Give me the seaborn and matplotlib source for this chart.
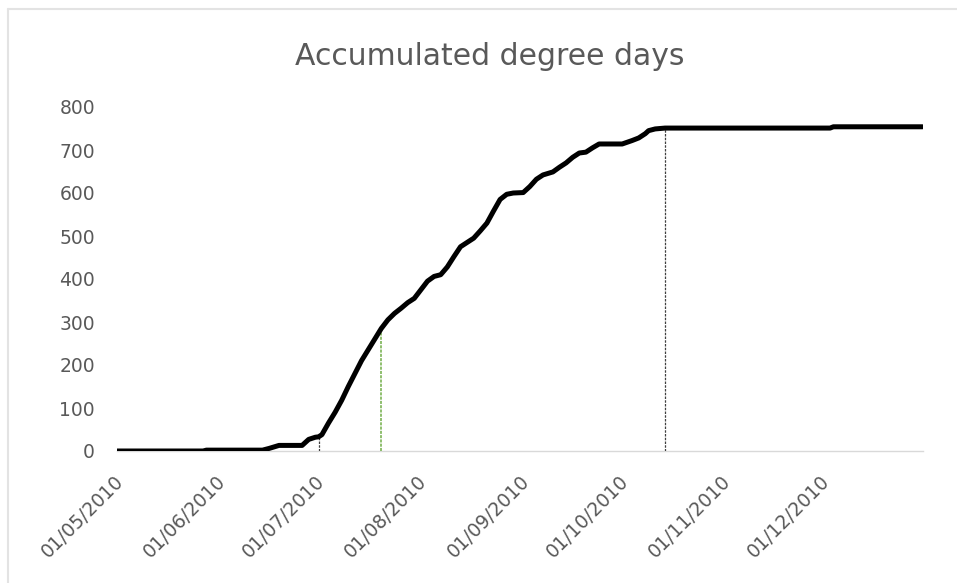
import matplotlib
matplotlib.use("Agg")
import matplotlib.pyplot as plt
import matplotlib.dates as mdates
from matplotlib.lines import Line2D
import matplotlib.transforms as mtransforms
import pandas as pd
import seaborn as sns

# ---- data ----
dates = [
    "2010-05-01", "2010-05-27", "2010-05-28", "2010-06-14", "2010-06-16", "2010-06-19",
    "2010-06-26", "2010-06-28", "2010-06-30", "2010-07-01", "2010-07-02", "2010-07-04",
    "2010-07-06", "2010-07-08", "2010-07-10", "2010-07-12", "2010-07-14", "2010-07-16",
    "2010-07-18", "2010-07-20", "2010-07-22", "2010-07-24", "2010-07-26", "2010-07-28",
    "2010-07-30", "2010-08-01", "2010-08-03", "2010-08-05", "2010-08-07", "2010-08-09",
    "2010-08-11", "2010-08-13", "2010-08-15", "2010-08-17", "2010-08-19", "2010-08-21",
    "2010-08-23", "2010-08-25", "2010-08-27", "2010-08-29", "2010-09-01", "2010-09-03",
    "2010-09-05", "2010-09-07", "2010-09-10", "2010-09-12", "2010-09-14", "2010-09-16",
    "2010-09-18", "2010-09-20", "2010-09-22", "2010-09-24", "2010-10-01", "2010-10-04",
    "2010-10-06", "2010-10-08", "2010-10-09", "2010-10-11", "2010-10-14", "2010-12-03",
    "2010-12-04", "2010-12-31",
]
degree_days = [
    0, 0, 2, 2, 6, 13,
    13, 27, 32, 33, 38, 65,
    90, 118, 150, 180, 210, 235,
    260, 285, 305, 320, 332, 345,
    355, 375, 395, 406, 410, 428,
    452, 475, 485, 495, 512, 530,
    558, 585, 597, 600, 601, 615,
    632, 642, 649, 660, 670, 683,
    693, 695, 705, 714, 714, 722,
    728, 738, 745, 749, 751, 751,
    754, 754,
]

marker_dates = ["2010-07-01", "2010-07-20", "2010-10-14"]
marker_values = [33, 283, 751]
marker_colors = ["#404040", "#70ad47", "#404040"]

tick_dates = ["2010-05-01", "2010-06-01", "2010-07-01", "2010-08-01",
              "2010-09-01", "2010-10-01", "2010-11-01", "2010-12-01"]
y_ticks = [0, 100, 200, 300, 400, 500, 600, 700, 800]
title = "Accumulated degree days"

# ---- plot ----
sns.set_style("white")
plt.rcParams["font.family"] = ["DejaVu Sans"]
text_color = "#595959"
axis_color = "#d9d9d9"

df = pd.DataFrame({"date": pd.to_datetime(dates), "value": degree_days})

fig = plt.figure(figsize=(9.57, 5.83), dpi=100)
W, H = 957, 583
left_px, right_px, top_px, bottom_px = 117.3, 922.5, 107, 451
ax = fig.add_axes([left_px / W, 1 - bottom_px / H,
                   (right_px - left_px) / W, (bottom_px - top_px) / H])

sns.lineplot(data=df, x="date", y="value", ax=ax, color="black",
             linewidth=3.6, solid_capstyle="round", solid_joinstyle="round", zorder=3)

md = pd.to_datetime(marker_dates)
for d, v, c in zip(md, marker_values, marker_colors):
    if c == "#70ad47":
        ax.vlines(d, 0, v, colors=c, linestyles=[(0, (2.0, 0.8))], linewidth=1.1, zorder=2)
    else:
        ax.vlines(d, 0, v, colors=c, linestyles=[(0, (2.0, 1.0))], linewidth=0.9, zorder=2)

ax.set_xlim(pd.Timestamp("2010-05-01"), pd.Timestamp("2010-12-31"))
ax.set_ylim(0, 800)
ax.set_xticks(pd.to_datetime(tick_dates))
ax.xaxis.set_major_formatter(mdates.DateFormatter("%d/%m/%Y"))
ax.set_yticks(y_ticks)
ax.set_xlabel("")
ax.set_ylabel("")

for s in ["top", "right", "left"]:
    ax.spines[s].set_visible(False)
ax.spines["bottom"].set_color(axis_color)
ax.spines["bottom"].set_linewidth(1.0)
ax.spines["bottom"].set_zorder(1)

ax.tick_params(axis="x", direction="out", length=3.6, width=1.0, color=axis_color,
               pad=16, labelsize=13.5, labelcolor=text_color)
ax.tick_params(axis="y", length=0, pad=16, labelsize=13.5, labelcolor=text_color)

offset = mtransforms.ScaledTranslation(3 / 100, 0, fig.dpi_scale_trans)
for lab in ax.get_xticklabels():
    lab.set_rotation(45)
    lab.set_ha("right")
    lab.set_va("center")
    lab.set_rotation_mode("anchor")
    lab.set_transform(lab.get_transform() + offset)

ax.grid(False)

fig.text(489.5 / W, 1 - 65 / H, title, ha="center", va="baseline",
         fontsize=21.5, color=text_color)

# chart-area border (top and left edges visible)
fig.add_artist(Line2D([8 / W, 1], [1 - 9 / H, 1 - 9 / H], transform=fig.transFigure,
                      color="#e3e3e3", linewidth=1.5))
fig.add_artist(Line2D([8 / W, 8 / W], [0, 1 - 9 / H], transform=fig.transFigure,
                      color="#e3e3e3", linewidth=1.5))

fig.savefig("out.png", dpi=100, facecolor="white")
